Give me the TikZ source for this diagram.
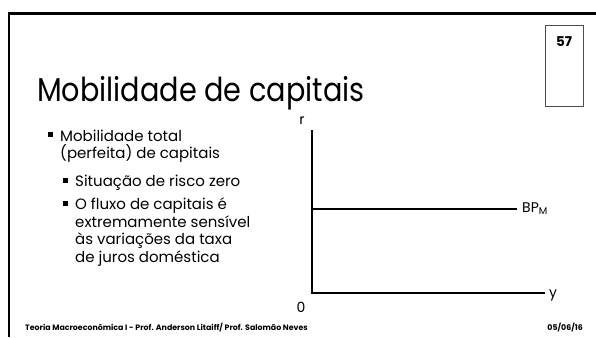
\documentclass[tikz,border=0pt]{standalone}
\usepackage{fontspec}
\setmainfont{Poppins}
\newfontfamily\titlefont[FakeStretch=0.87]{Poppins}
\begin{document}
\begin{tikzpicture}[x=1pt,y=-1pt,
  txt/.style={anchor=base west, inner sep=0pt, font=\fontsize{15}{17}\selectfont},
  bul/.style={fill=black, minimum size=5, inner sep=0pt},
  axis/.style={line width=2.6pt},
  lbl/.style={inner sep=0pt, font=\fontsize{14}{16}\selectfont}]
\useasboundingbox (0,0) rectangle (596,337);
\fill[white] (0,0) rectangle (596,337);
% frame
\draw[line width=2.6pt] (9,337) -- (9,13.5) -- (596,13.5);
% page number box
\draw[line width=0.6pt, draw=black!70] (545,25) rectangle (583,106);
\node[inner sep=0pt, font=\bfseries\fontsize{13.5}{15}\selectfont] (num) at (564,42) {57};
% title
\node[anchor=base west, inner sep=0pt, font=\titlefont\fontsize{33}{36}\selectfont] (title) at (37,101) {Mobilidade de capitais};
% bullets
\node[bul] (b1) at (50.5,134.5) {};
\node[txt] (t1) at (60,141) {Mobilidade total};
\node[txt] (t2) at (60,158) {(perfeita) de capitais};
\node[bul] (b2) at (65.5,180) {};
\node[txt] (t3) at (75,186) {Situação de risco zero};
\node[bul] (b3) at (65.5,203) {};
\node[txt] (t4) at (75,209) {O fluxo de capitais é};
\node[txt] (t5) at (75,227) {extremamente sensível};
\node[txt] (t6) at (75,244) {às variações da taxa};
\node[txt] (t7) at (75,262) {de juros doméstica};
% chart
\coordinate (O) at (312,293);
\coordinate (ytop) at (312,130);
\coordinate (xend) at (545,293);
\coordinate (bpl) at (312,209);
\coordinate (bpr) at (517,209);
\draw[axis] (ytop) -- (O) -- (xend);
\draw[axis] (bpl) -- (bpr);
\node[lbl] (r) at (302,121) {r};
\node[lbl] (yl) at (553,295) {y};
\node[lbl] (zero) at (301,307) {0};
\node[lbl, anchor=west] (bp) at (522,209) {BP\textsubscript{M}};
% footer
\node[anchor=base west, inner sep=0pt, font=\bfseries\fontsize{7.85}{9}\selectfont] (foot) at (25,330) {Teoria Macroeconômica I - Prof. Anderson Litaiff/ Prof. Salomão Neves};
\node[anchor=base east, inner sep=0pt, font=\bfseries\fontsize{7.85}{9}\selectfont] (date) at (583,330) {05/06/16};
\end{tikzpicture}
\end{document}
